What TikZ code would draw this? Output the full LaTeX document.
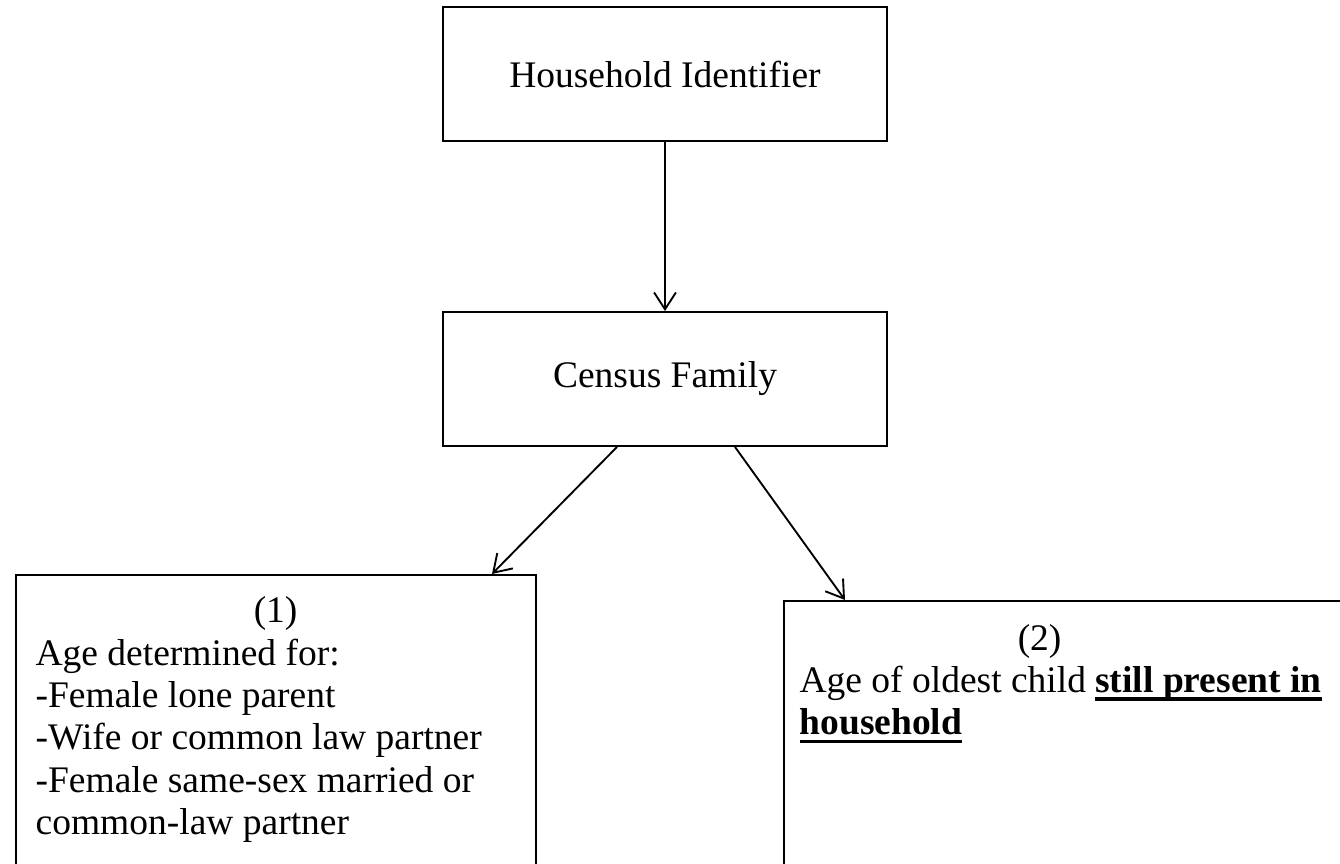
\documentclass[tikz,border=0pt]{standalone}
\usepackage{fontspec}
\setmainfont{Liberation Serif}
\usetikzlibrary{calc}
\usetikzlibrary{arrows.meta}

% bold text with a heavy underline
\newsavebox{\ulbox}
\newcommand{\boldul}[1]{\sbox{\ulbox}{\bfseries #1}\rlap{\rule[-2.7pt]{\wd\ulbox}{1.1pt}}\usebox{\ulbox}}

\begin{document}
\begin{tikzpicture}[x=.32pt, y=-.32pt,
  every node/.style={font=\fontsize{12}{13.6}\selectfont},
  box/.style={draw, line width=.6pt, inner sep=0pt},
  conn/.style={line width=.6pt, -{Straight Barb[length=5.4pt, width=7pt]}}]
\useasboundingbox (0,0) rectangle (1340,864);
\clip (0,0) rectangle (1340,864);

\node[box, minimum width=142.1pt, minimum height=42.9pt] (hid) at (665,74) {Household Identifier};
\node[box, minimum width=142.1pt, minimum height=42.9pt] (cf) at (665,379) {Census Family};

% the two lower boxes run past the page edge
\node[box, anchor=north west, minimum width=166.4pt, minimum height=102.4pt] (age) at (15,574) {};
\node[box, anchor=north west, minimum width=192pt, minimum height=96pt] (oldest) at (783,600) {};

% base = baseline of the last line
\node[anchor=base west, align=left, inner sep=0pt] (agetext) at (35,835) {\makebox[153.6pt]{(1)}\\Age determined for:\\-Female lone parent\\-Wife or common law partner\\-Female same-sex married or\\common-law partner};
\node[anchor=base west, align=left, inner sep=0pt] (oldesttext) at (799,735) {\makebox[153.6pt]{(2)}\\Age of oldest child \boldul{still present in}\\\boldul{household}};

\draw[conn] (hid) -- (cf);
\draw[conn] ($(cf.south)+(-48,0)$) -- ($(age.north west)+(477,0)$);
\draw[conn] ($(cf.south)+(70,0)$) -- ($(oldest.north west)+(62,0)$);
\end{tikzpicture}
\end{document}
